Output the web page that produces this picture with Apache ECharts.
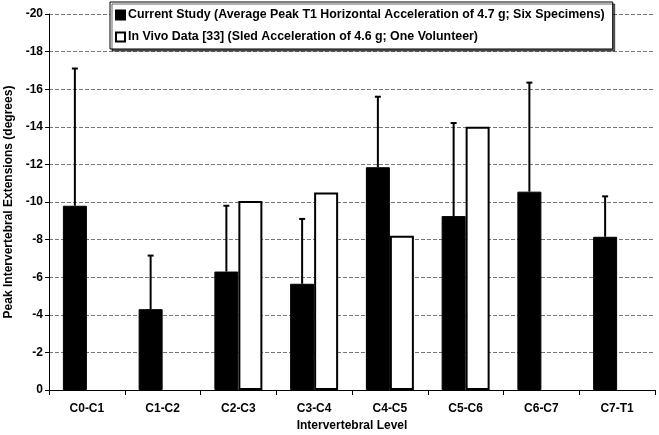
<!DOCTYPE html>
<html>
<head>
<meta charset="utf-8">
<script src="https://cdn.jsdelivr.net/npm/echarts@6/dist/echarts.min.js"></script>
<style>
  html, body { margin: 0; padding: 0; background: #fff; }
  #chart { width: 659px; height: 435px; }
</style>
</head>
<body>
<div id="chart"></div>
<script>
const categories = ['C0-C1', 'C1-C2', 'C2-C3', 'C3-C4', 'C4-C5', 'C5-C6', 'C6-C7', 'C7-T1'];
// current study, mean peak extension (degrees)
const currentStudy = [-9.8, -4.3, -6.3, -5.65, -11.85, -9.25, -10.55, -8.15];
// mean + one SD (top of the error bar)
const currentStudyErr = [-17.1, -7.15, -9.8, -9.1, -15.6, -14.2, -16.35, -10.3];
// in vivo volunteer data
const inVivo = [null, null, -10.05, -10.5, -8.2, -14.0, null, null];
const yTicks = { min: -20, max: 0, step: 2 };

const font = 'Liberation Sans, Arial, sans-serif';
const chart = echarts.init(document.getElementById('chart'));

chart.setOption({
  animation: false,
  backgroundColor: '#fff',
  textStyle: { fontFamily: font },
  grid: { left: 49, right: 4, top: 14, bottom: 45, outerBoundsMode: 'none', containLabel: false },
  legend: {
    orient: 'vertical',
    left: 110,
    top: 2,
    itemWidth: 9,
    itemHeight: 9,
    itemGap: 10,
    padding: [7, 8, 6, 5],
    backgroundColor: '#fff',
    borderColor: '#000',
    borderWidth: 1,
    shadowColor: 'rgba(0,0,0,0.6)',
    shadowOffsetX: 2,
    shadowOffsetY: 2,
    shadowBlur: 0,
    textStyle: { fontFamily: font, fontWeight: 'bold', fontSize: 12.4, color: '#000', padding: [0, 0, 0, -2] },
    data: [
      { name: 'Current Study (Average Peak T1 Horizontal Acceleration of 4.7 g; Six Specimens)', icon: 'rect' },
      { name: 'In Vivo Data [33] (Sled Acceleration of 4.6 g; One Volunteer)', icon: 'rect' }
    ]
  },
  xAxis: {
    type: 'category',
    data: categories,
    name: 'Intervertebral Level',
    nameLocation: 'middle',
    nameGap: 29,
    nameTextStyle: { fontFamily: font, fontWeight: 'bold', fontSize: 12, color: '#000' },
    axisLine: { lineStyle: { color: '#000', width: 1 } },
    axisTick: { show: true, alignWithLabel: false, length: 5, lineStyle: { color: '#000' } },
    axisLabel: { fontFamily: font, fontWeight: 'bold', fontSize: 12, color: '#000', margin: 13 },
    splitLine: { show: false }
  },
  yAxis: {
    type: 'value',
    inverse: true,
    min: yTicks.min,
    max: yTicks.max,
    interval: yTicks.step,
    name: 'Peak Intervertebral Extensions (degrees)',
    nameLocation: 'middle',
    nameGap: 32,
    nameRotate: 90,
    nameTextStyle: { fontFamily: font, fontWeight: 'bold', fontSize: 12, color: '#000' },
    axisLine: { show: true, lineStyle: { color: '#000', width: 1 } },
    axisTick: { show: true, inside: false, length: 4, lineStyle: { color: '#000' } },
    axisLabel: { fontFamily: font, fontWeight: 'bold', fontSize: 12, color: '#000', margin: 6 },
    splitLine: { show: true, lineStyle: { color: '#777', type: [4, 2], width: 1 } }
  },
  series: [
    {
      name: 'Current Study (Average Peak T1 Horizontal Acceleration of 4.7 g; Six Specimens)',
      type: 'bar',
      data: currentStudy,
      barWidth: 24,
      barGap: '0%',
      itemStyle: { color: '#000', borderColor: '#000', borderWidth: 1 },
      z: 2
    },
    {
      name: 'In Vivo Data [33] (Sled Acceleration of 4.6 g; One Volunteer)',
      type: 'bar',
      data: inVivo,
      barWidth: 24,
      barGap: '0%',
      itemStyle: { color: '#fff', borderColor: '#000', borderWidth: 2 },
      z: 2
    },
    {
      name: 'err',
      type: 'custom',
      z: 3,
      data: categories.map((c, i) => [i, currentStudy[i], currentStudyErr[i]]),
      renderItem: function (params, api) {
        const i = api.value(0);
        const base = api.coord([i, api.value(1)]);
        const top = api.coord([i, api.value(2)]);
        const x = base[0] - 12;
        return {
          type: 'group',
          children: [
            { type: 'line', shape: { x1: x, y1: base[1], x2: x, y2: top[1] }, style: { stroke: '#000', lineWidth: 2 } },
            { type: 'line', shape: { x1: x - 3, y1: top[1], x2: x + 3, y2: top[1] }, style: { stroke: '#000', lineWidth: 2 } }
          ]
        };
      }
    }
  ]
});
</script>
</body>
</html>
